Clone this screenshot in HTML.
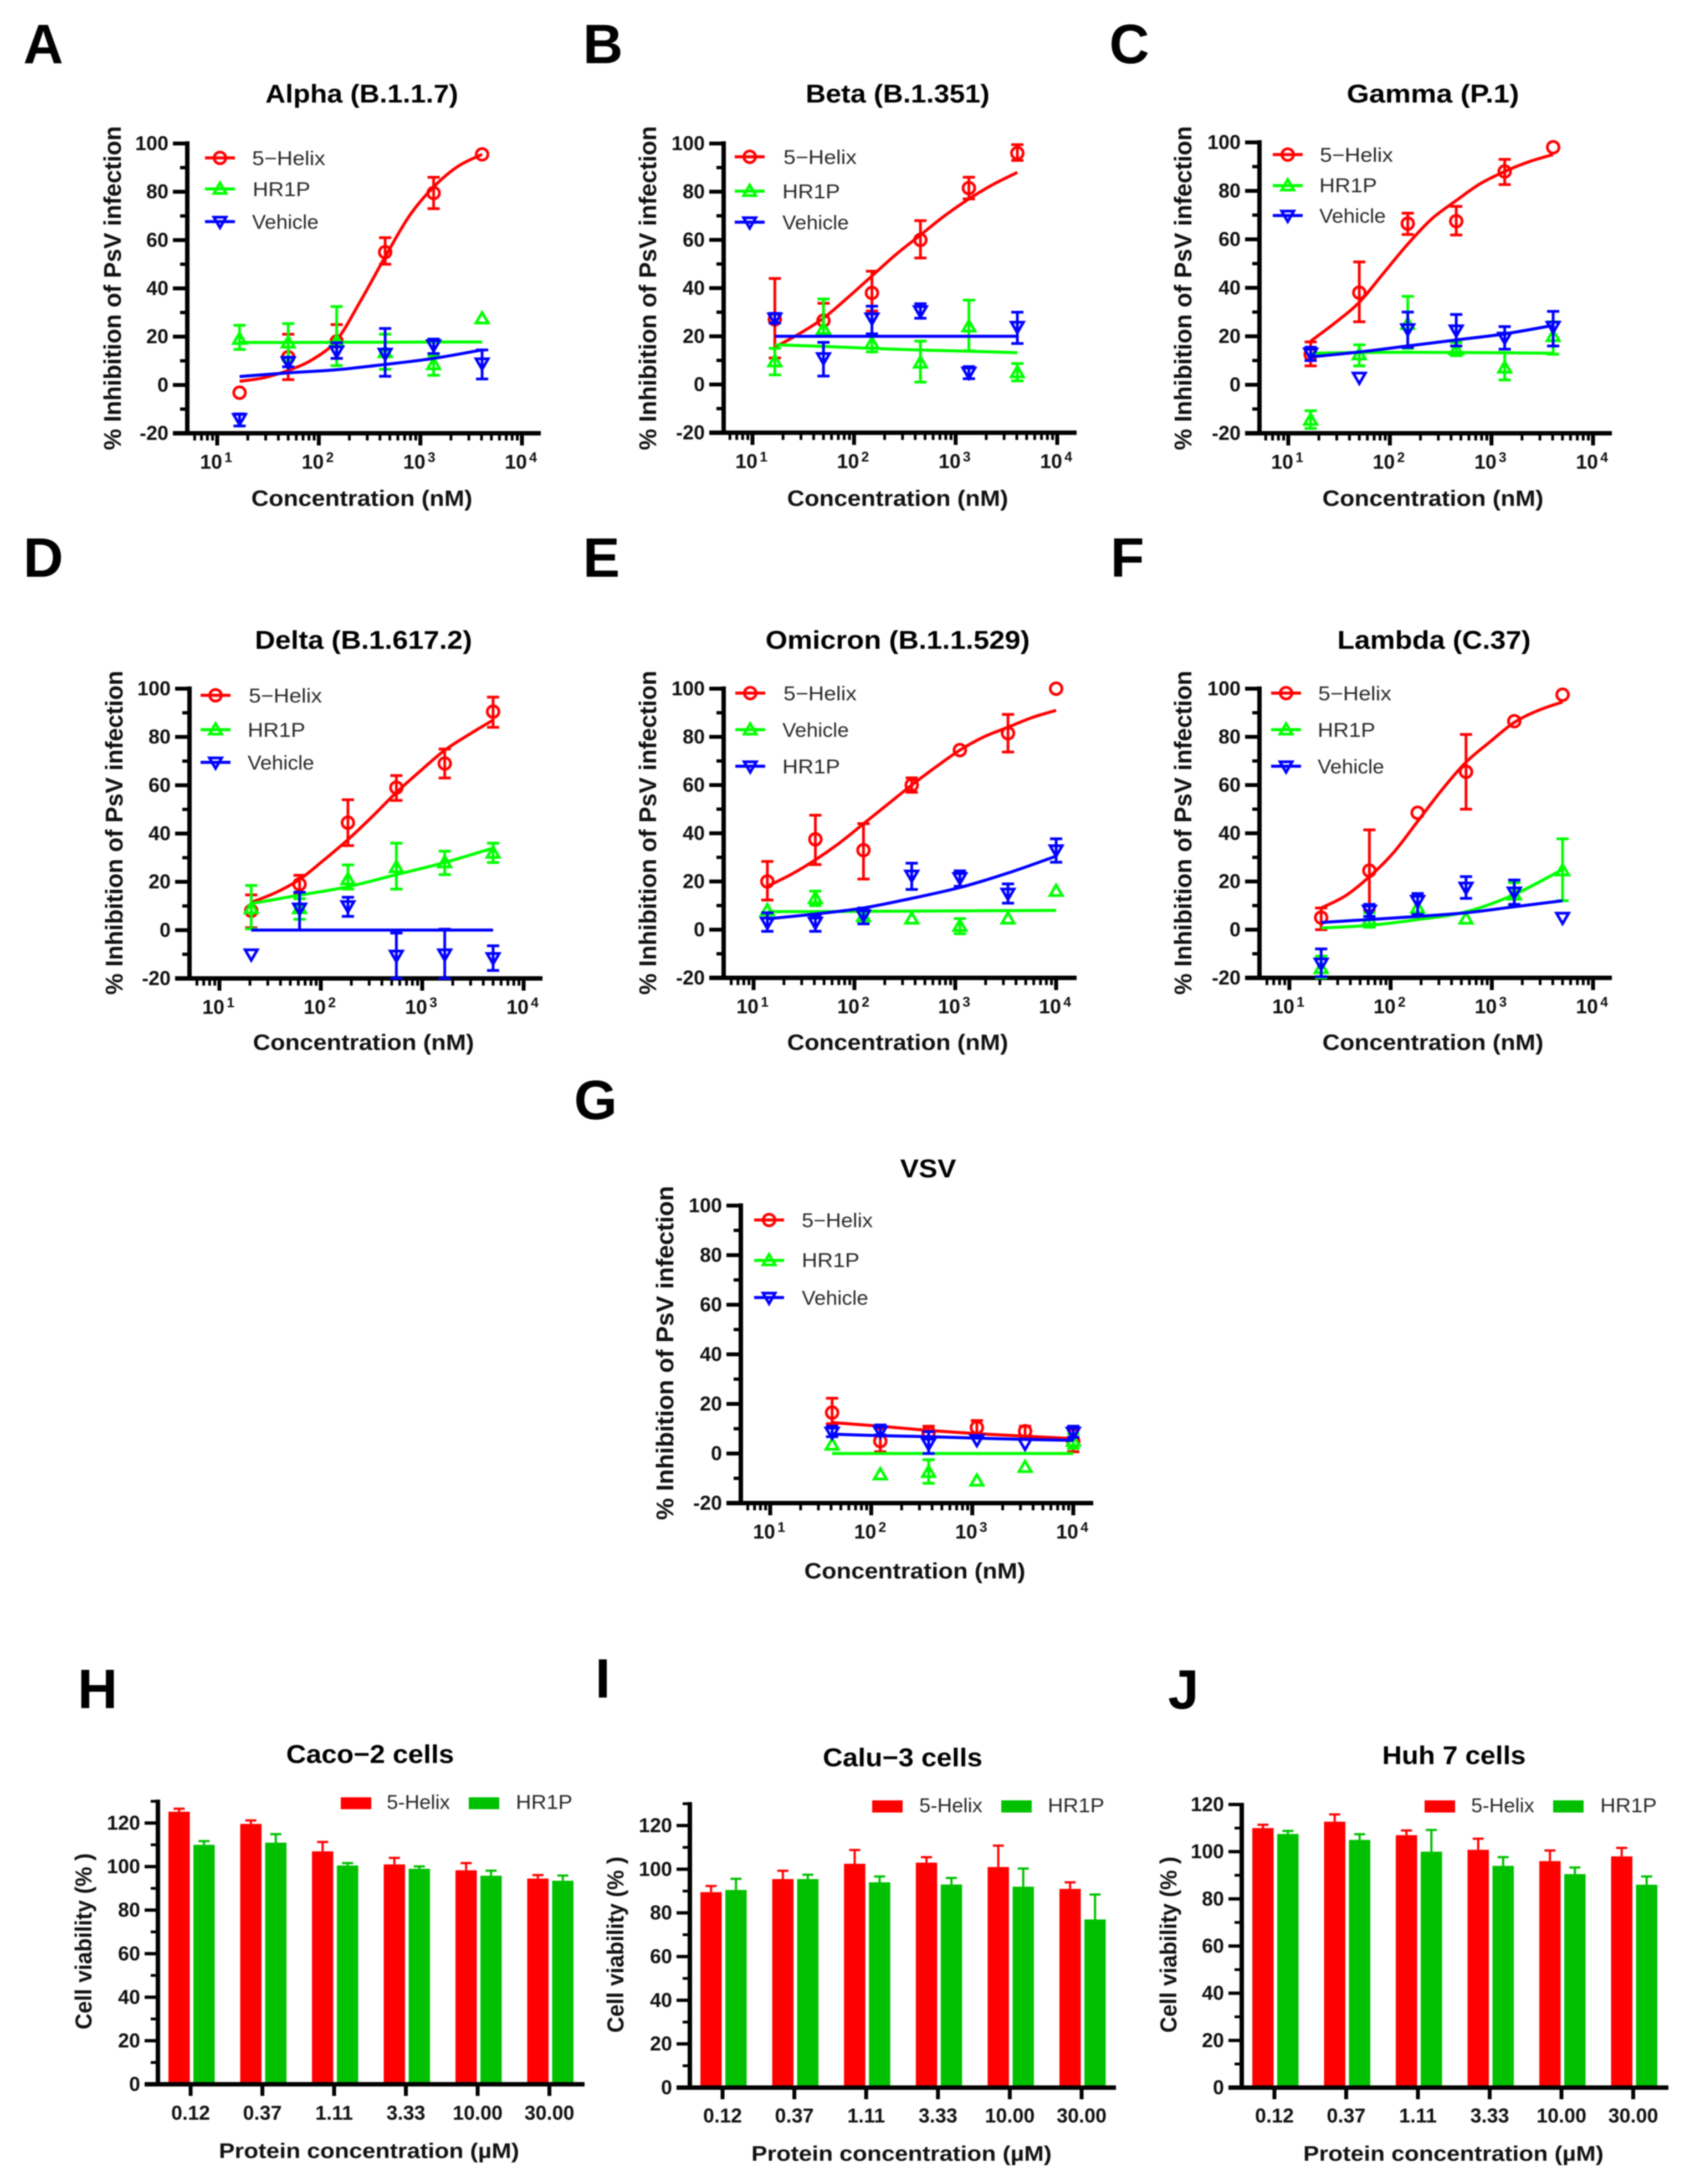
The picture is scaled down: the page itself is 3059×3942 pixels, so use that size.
<!DOCTYPE html>
<html lang="en">
<head>
<meta charset="utf-8">
<title>SARS-CoV-2 variant pseudovirus inhibition and cell viability</title>
<style>
html,body{margin:0;padding:0;background:#fff;}
svg{display:block;font-family:"Liberation Sans",sans-serif;filter:blur(1px);}
.letter{font-size:100px;font-weight:700;fill:#000;}
.title{font-size:46px;font-weight:700;fill:#000;text-anchor:middle;}
.axt{font-size:40px;font-weight:700;fill:#111;text-anchor:middle;}
.ayt{font-size:44px;font-weight:700;fill:#111;text-anchor:middle;}
.leg{font-size:36px;fill:#2a2a2a;}
.tick{font-size:36px;font-weight:700;fill:#111;}
</style>
</head>
<body>
<svg id="figure" width="3059" height="3942" viewBox="0 0 3059 3942">
<rect x="0" y="0" width="3059" height="3942" fill="#fff"/>

<g id="panel-a">
<text class="letter" x="42" y="114">A</text>
<text class="title" x="653" y="185" textLength="348" lengthAdjust="spacingAndGlyphs">Alpha (B.1.1.7)</text>
<text class="ayt" transform="translate(218,520) rotate(-90)" textLength="585" lengthAdjust="spacingAndGlyphs">% Inhibition of PsV infection</text>
<text class="axt" x="653" y="913" textLength="399" lengthAdjust="spacingAndGlyphs">Concentration (nM)</text>
<text class="leg" x="455" y="298" textLength="132" lengthAdjust="spacingAndGlyphs">5−Helix</text>
<text class="leg" x="456" y="354" textLength="104" lengthAdjust="spacingAndGlyphs">HR1P</text>
<text class="leg" x="455" y="413" textLength="120" lengthAdjust="spacingAndGlyphs">Vehicle</text>
</g>

<g id="panel-b">
<text class="letter" x="1052" y="114">B</text>
<text class="title" x="1620" y="185" textLength="332" lengthAdjust="spacingAndGlyphs">Beta (B.1.351)</text>
<text class="ayt" transform="translate(1184,520) rotate(-90)" textLength="585" lengthAdjust="spacingAndGlyphs">% Inhibition of PsV infection</text>
<text class="axt" x="1620" y="913" textLength="399" lengthAdjust="spacingAndGlyphs">Concentration (nM)</text>
<text class="leg" x="1414" y="296" textLength="132" lengthAdjust="spacingAndGlyphs">5−Helix</text>
<text class="leg" x="1412" y="358" textLength="104" lengthAdjust="spacingAndGlyphs">HR1P</text>
<text class="leg" x="1412" y="414" textLength="120" lengthAdjust="spacingAndGlyphs">Vehicle</text>
</g>

<g id="panel-c">
<text class="letter" x="2002" y="114">C</text>
<text class="title" x="2586" y="185" textLength="311" lengthAdjust="spacingAndGlyphs">Gamma (P.1)</text>
<text class="ayt" transform="translate(2150,520) rotate(-90)" textLength="585" lengthAdjust="spacingAndGlyphs">% Inhibition of PsV infection</text>
<text class="axt" x="2586" y="913" textLength="399" lengthAdjust="spacingAndGlyphs">Concentration (nM)</text>
<text class="leg" x="2382" y="292" textLength="132" lengthAdjust="spacingAndGlyphs">5−Helix</text>
<text class="leg" x="2381" y="347" textLength="104" lengthAdjust="spacingAndGlyphs">HR1P</text>
<text class="leg" x="2381" y="402" textLength="120" lengthAdjust="spacingAndGlyphs">Vehicle</text>
</g>

<g id="panel-d">
<text class="letter" x="42" y="1041">D</text>
<text class="title" x="656" y="1171" textLength="392" lengthAdjust="spacingAndGlyphs">Delta (B.1.617.2)</text>
<text class="ayt" transform="translate(221,1503) rotate(-90)" textLength="585" lengthAdjust="spacingAndGlyphs">% Inhibition of PsV infection</text>
<text class="axt" x="656" y="1895" textLength="399" lengthAdjust="spacingAndGlyphs">Concentration (nM)</text>
<text class="leg" x="449" y="1268" textLength="132" lengthAdjust="spacingAndGlyphs">5−Helix</text>
<text class="leg" x="447" y="1330" textLength="104" lengthAdjust="spacingAndGlyphs">HR1P</text>
<text class="leg" x="447" y="1389" textLength="120" lengthAdjust="spacingAndGlyphs">Vehicle</text>
</g>

<g id="panel-e">
<text class="letter" x="1052" y="1041">E</text>
<text class="title" x="1620" y="1171" textLength="477" lengthAdjust="spacingAndGlyphs">Omicron (B.1.1.529)</text>
<text class="ayt" transform="translate(1184,1503) rotate(-90)" textLength="585" lengthAdjust="spacingAndGlyphs">% Inhibition of PsV infection</text>
<text class="axt" x="1620" y="1895" textLength="399" lengthAdjust="spacingAndGlyphs">Concentration (nM)</text>
<text class="leg" x="1414" y="1264" textLength="132" lengthAdjust="spacingAndGlyphs">5−Helix</text>
<text class="leg" x="1412" y="1330" textLength="120" lengthAdjust="spacingAndGlyphs">Vehicle</text>
<text class="leg" x="1412" y="1396" textLength="104" lengthAdjust="spacingAndGlyphs">HR1P</text>
</g>

<g id="panel-f">
<text class="letter" x="2004" y="1041">F</text>
<text class="title" x="2588" y="1171" textLength="349" lengthAdjust="spacingAndGlyphs">Lambda (C.37)</text>
<text class="ayt" transform="translate(2150,1503) rotate(-90)" textLength="585" lengthAdjust="spacingAndGlyphs">% Inhibition of PsV infection</text>
<text class="axt" x="2586" y="1895" textLength="399" lengthAdjust="spacingAndGlyphs">Concentration (nM)</text>
<text class="leg" x="2379" y="1264" textLength="132" lengthAdjust="spacingAndGlyphs">5−Helix</text>
<text class="leg" x="2378" y="1330" textLength="104" lengthAdjust="spacingAndGlyphs">HR1P</text>
<text class="leg" x="2378" y="1396" textLength="120" lengthAdjust="spacingAndGlyphs">Vehicle</text>
</g>

<g id="panel-g">
<text class="letter" x="1036" y="2020">G</text>
<text class="title" x="1675" y="2125" textLength="101" lengthAdjust="spacingAndGlyphs">VSV</text>
<text class="ayt" transform="translate(1215,2442) rotate(-90)" textLength="603" lengthAdjust="spacingAndGlyphs">% Inhibition of PsV infection</text>
<text class="axt" x="1651" y="2849" textLength="399" lengthAdjust="spacingAndGlyphs">Concentration (nM)</text>
<text class="leg" x="1447" y="2215" textLength="128" lengthAdjust="spacingAndGlyphs">5−Helix</text>
<text class="leg" x="1447" y="2287" textLength="104" lengthAdjust="spacingAndGlyphs">HR1P</text>
<text class="leg" x="1447" y="2355" textLength="120" lengthAdjust="spacingAndGlyphs">Vehicle</text>
</g>

<g id="panel-h">
<text class="letter" x="140" y="3083">H</text>
<text class="title" x="668" y="3182" textLength="303" lengthAdjust="spacingAndGlyphs">Caco−2 cells</text>
<text class="ayt" transform="translate(165,3504) rotate(-90)" textLength="318" lengthAdjust="spacingAndGlyphs" style="font-size:42px">Cell viability (% )</text>
<text class="axt" x="666" y="3895" textLength="542" lengthAdjust="spacingAndGlyphs" style="font-size:38px">Protein concentration (µM)</text>
<text class="leg" x="698" y="3265" textLength="114" lengthAdjust="spacingAndGlyphs">5-Helix</text>
<text class="leg" x="931" y="3265" textLength="102" lengthAdjust="spacingAndGlyphs">HR1P</text>
</g>

<g id="panel-i">
<text class="letter" x="1074" y="3064">I</text>
<text class="title" x="1629" y="3188" textLength="288" lengthAdjust="spacingAndGlyphs">Calu−3 cells</text>
<text class="ayt" transform="translate(1125,3510) rotate(-90)" textLength="318" lengthAdjust="spacingAndGlyphs" style="font-size:42px">Cell viability (% )</text>
<text class="axt" x="1627" y="3900" textLength="542" lengthAdjust="spacingAndGlyphs" style="font-size:38px">Protein concentration (µM)</text>
<text class="leg" x="1659" y="3271" textLength="114" lengthAdjust="spacingAndGlyphs">5-Helix</text>
<text class="leg" x="1891" y="3271" textLength="102" lengthAdjust="spacingAndGlyphs">HR1P</text>
</g>

<g id="panel-j">
<text class="letter" x="2108" y="3084">J</text>
<text class="title" x="2624" y="3184" textLength="259" lengthAdjust="spacingAndGlyphs">Huh 7 cells</text>
<text class="ayt" transform="translate(2123,3510) rotate(-90)" textLength="318" lengthAdjust="spacingAndGlyphs" style="font-size:42px">Cell viability (% )</text>
<text class="axt" x="2623" y="3900" textLength="542" lengthAdjust="spacingAndGlyphs" style="font-size:38px">Protein concentration (µM)</text>
<text class="leg" x="2655" y="3271" textLength="114" lengthAdjust="spacingAndGlyphs">5-Helix</text>
<text class="leg" x="2888" y="3271" textLength="102" lengthAdjust="spacingAndGlyphs">HR1P</text>
</g>
</svg>

<script>
/* ---------- shared tick labels ---------- */
const curveYTickLabels = [100, 80, 60, 40, 20, 0, -20];
const curveXTickExponents = [1, 2, 3, 4];
const barYTickLabels = [120, 100, 80, 60, 40, 20, 0];
const barCategories = ['0.12', '0.37', '1.11', '3.33', '10.00', '30.00'];

/* ---------- A: Alpha ---------- */
const alphaDoses = [16.6, 50, 150, 450, 1350, 4050];
const alphaRed = [-3.2, 11.5, 18, 55, 79.5, 95.5];
const alphaRedUp = [0, 9.5, 7, 6, 6.5, 0];
const alphaRedDown = [0, 9.3, 7, 5, 6.5, 0];
const alphaRedFit = [1.5, 3, 6, 10.5, 18.5, 35, 53, 70, 82, 90.5, 95.5];
const alphaGreen = [19, 17.5, 18, 13.5, 8.5, 27.5];
const alphaGreenUp = [5.7, 7.9, 14.5, 7.5, 3.5, 0];
const alphaGreenDown = [4.3, 7.5, 10, 7, 4.5, 0];
const alphaGreenFit = [17.6, 17.6, 17.7, 17.7, 17.8, 17.8];
const alphaBlue = [-14, 9.5, 14, 13, 16.5, 9];
const alphaBlueUp = [2, 2, 3.5, 10.4, 2.5, 5.5];
const alphaBlueDown = [3, 2, 3, 9.4, 3.5, 6.5];
const alphaBlueFit = [3.5, 5, 6.3, 8.5, 11, 14.5];

/* ---------- B: Beta ---------- */
const betaDoses = [16.6, 50, 150, 450, 1350, 4050];
const betaRed = [27, 26.5, 38, 60, 81.5, 96];
const betaRedUp = [17, 7.2, 9, 8, 4.5, 3.5];
const betaRedDown = [16, 6.5, 7.5, 7.5, 4.5, 3];
const betaRedFit = [15.5, 21, 27.5, 36, 45, 54, 62, 70, 77, 83, 88];
const betaGreen = [9.5, 23, 17, 9, 24, 5];
const betaGreenUp = [5.5, 12.5, 3, 9, 11, 3.7];
const betaGreenDown = [5.5, 3, 3.5, 8, 10, 3.5];
const betaGreenFit = [16.5, 15.8, 15, 14.3, 13.8, 13.2];
const betaBlue = [27.5, 11, 27.5, 30.5, 5, 24];
const betaBlueUp = [2, 6.5, 5, 3, 2.4, 6];
const betaBlueDown = [2, 7.5, 6.5, 3, 2.6, 7];
const betaBlueFit = [20, 20, 20, 20, 20, 20];

/* ---------- C: Gamma ---------- */
const gammaDoses = [16.6, 50, 150, 450, 1350, 4050];
const gammaRed = [12.5, 38, 66.5, 67.5, 88, 98];
const gammaRedUp = [5.2, 12.7, 4.3, 6.1, 5, 0];
const gammaRedDown = [4.7, 12, 4.5, 5.7, 5.4, 0];
const gammaRedFit = [18, 25.5, 34, 46, 58, 68.5, 76, 83, 88, 92, 95];
const gammaGreen = [-14.5, 12.5, 25, 14.5, 7, 20];
const gammaGreenUp = [3.8, 4, 11.5, 3, 6.3, 6];
const gammaGreenDown = [3.5, 4.7, 10, 2.5, 5, 7.4];
const gammaGreenFit = [13, 13.3, 13.4, 13.3, 13.2, 13];
const gammaBlue = [13, 3, 23, 22.5, 19.5, 24];
const gammaBlueUp = [2.5, 0, 7, 6.5, 4.5, 6.3];
const gammaBlueDown = [3, 0, 7.6, 6.5, 4.8, 8];
const gammaBlueFit = [11.5, 13.5, 16, 18.5, 21, 24.5];

/* ---------- D: Delta ---------- */
const deltaDoses = [20.6, 61.7, 185, 556, 1667, 5000];
const deltaRed = [8, 19, 44.5, 59, 69, 90.5];
const deltaRedUp = [6.6, 3.7, 9.5, 5, 6, 6];
const deltaRedDown = [7, 4, 9.5, 5.3, 6, 6.5];
const deltaRedFit = [11.5, 15.5, 21, 29, 37.5, 47, 57, 66, 74.5, 81, 87];
const deltaGreen = [9, 9, 21, 26, 28, 32];
const deltaGreenUp = [9.5, 4, 6, 10, 4.7, 4];
const deltaGreenDown = [8.5, 4.5, 4, 9, 5, 4];
const deltaGreenFit = [11, 14.5, 18, 23, 28, 34];
const deltaBlue = [-10, 9, 10, -10.5, -10, -11.5];
const deltaBlueUp = [0, 6.7, 3.6, 9.3, 10.4, 5];
const deltaBlueDown = [0, 9, 4.3, 9.5, 10, 5.2];
const deltaBlueFit = [0, 0, 0, 0, 0, 0];

/* ---------- E: Omicron ---------- */
const omicronDoses = [13.7, 41, 123, 370, 1111, 3333, 10000];
const omicronRed = [20, 37.5, 33, 60, 74.5, 81.5, 100];
const omicronRedUp = [8.3, 10, 11, 3, 0, 7.8, 0];
const omicronRedDown = [7.7, 10.5, 12, 3, 0, 7.8, 0];
const omicronRedFit = [18, 23, 29, 36, 44, 52, 60, 67.5, 74.5, 80, 84, 88, 91];
const omicronGreen = [8, 13, 5.5, 4.5, 1.5, 4.5, 16];
const omicronGreenUp = [0, 3, 0, 0, 3.1, 0, 0];
const omicronGreenDown = [0, 3, 0, 0, 3.2, 0, 0];
const omicronGreenFit = [7.5, 7.5, 7.6, 7.7, 7.8, 7.9, 8];
const omicronBlue = [3, 3, 6, 22.5, 21.5, 15, 33];
const omicronBlueUp = [4, 3, 3, 5.1, 2.9, 4, 4.7];
const omicronBlueDown = [3.7, 3.7, 3.6, 5.8, 3.5, 4, 5];
const omicronBlueFit = [4.5, 6.5, 9, 13, 17.5, 23.5, 30.5];

/* ---------- F: Lambda ---------- */
const lambdaDoses = [20.6, 61.7, 185, 556, 1667, 5000];
const lambdaRed = [5, 24.5, 48.5, 65.5, 86.5, 97.5];
const lambdaRedUp = [4, 16.9, 0, 15.5, 0, 0];
const lambdaRedDown = [5, 16.5, 0, 15.5, 0, 0];
const lambdaRedFit = [9, 14, 22, 32, 45, 58, 69.5, 78, 86, 91, 94.5];
const lambdaGreen = [-16, 4, 9, 4.5, 14.5, 24.5];
const lambdaGreenUp = [5, 3, 5, 0, 5, 13.2];
const lambdaGreenDown = [4, 3, 3.5, 0, 4.5, 12.5];
const lambdaGreenFit = [0.7, 1.8, 4.2, 7.4, 14.6, 25];
const lambdaBlue = [-14, 8, 12, 17.5, 15.5, 5];
const lambdaBlueUp = [6, 2.5, 3, 4.5, 5.1, 0];
const lambdaBlueDown = [5.5, 2.5, 5.7, 4.5, 5, 0];
const lambdaBlueFit = [3, 4.2, 5.5, 7, 9.5, 12];

/* ---------- G: VSV ---------- */
const vsvDoses = [41, 123, 370, 1111, 3333, 10000];
const vsvRed = [16.5, 5, 8.5, 10.5, 9, 5];
const vsvRedUp = [5.8, 5, 2.5, 2.8, 2, 4.5];
const vsvRedDown = [4.5, 4.3, 2, 2.5, 2.2, 4.3];
const vsvRedFit = [12.5, 11, 9.3, 8, 7, 6];
const vsvGreen = [3.5, -8.5, -7.5, -11, -5.5, 5];
const vsvGreenUp = [0, 0, 5, 0, 0, 3];
const vsvGreenDown = [0, 0, 4.5, 0, 0, 3];
const vsvGreenFit = [0, 0, 0, 0, 0, 0];
const vsvBlue = [8.5, 9, 4, 5.5, 4, 8.5];
const vsvBlueUp = [2.5, 2.5, 4.8, 0, 0, 2.5];
const vsvBlueDown = [1.7, 1.5, 4, 0, 0, 2];
const vsvBlueFit = [7.8, 7.2, 6.8, 6.2, 5.7, 5.3];

/* ---------- H, I, J: cell viability bars ---------- */
const cacoRed = [125.2, 119.6, 107, 101, 98.3, 94.5];
const cacoRedErr = [1.4, 1.6, 4.3, 3, 3.3, 1.6];
const cacoGreen = [110, 111, 100.5, 99, 95.8, 93.5];
const cacoGreenErr = [1.7, 3.9, 1.1, 1.1, 2.3, 2.4];
const caluRed = [89.5, 95.5, 102.5, 103, 101, 91];
const caluRedErr = [2.8, 3.8, 6.3, 2.5, 9.8, 3];
const caluGreen = [90.5, 95.5, 94, 93, 92, 77];
const caluGreenErr = [5.1, 2, 2.7, 3, 8.3, 11.4];
const huhRed = [110, 112.7, 107, 100.8, 96, 98];
const huhRedErr = [1.4, 3.1, 2, 4.7, 4.5, 3.6];
const huhGreen = [107.5, 105, 100, 94, 90.5, 86];
const huhGreenErr = [1.3, 2.4, 9.2, 3.7, 2.8, 3.5];

/* ---------- layout (separate from data) ---------- */
const RED = '#ff0000', LIME = '#00ff00', BLUE = '#0000ff', BAR_GREEN = '#00c000';

const curvePanels = [
  { id: 'panel-a', axisX: 338, top: 259, bottom: 782, x10: 392, x1e4: 942, xEnd: 976, legX: 370, legY: [285, 341, 400],
    doses: alphaDoses,
    series: [
      { v: alphaRed, up: alphaRedUp, dn: alphaRedDown, fit: alphaRedFit },
      { v: alphaGreen, up: alphaGreenUp, dn: alphaGreenDown, fit: alphaGreenFit },
      { v: alphaBlue, up: alphaBlueUp, dn: alphaBlueDown, fit: alphaBlueFit } ] },
  { id: 'panel-b', axisX: 1306, top: 259, bottom: 781, x10: 1358, x1e4: 1908, xEnd: 1943, legX: 1326, legY: [283, 345, 401],
    doses: betaDoses,
    series: [
      { v: betaRed, up: betaRedUp, dn: betaRedDown, fit: betaRedFit },
      { v: betaGreen, up: betaGreenUp, dn: betaGreenDown, fit: betaGreenFit },
      { v: betaBlue, up: betaBlueUp, dn: betaBlueDown, fit: betaBlueFit } ] },
  { id: 'panel-c', axisX: 2273, top: 257, bottom: 782, x10: 2325, x1e4: 2875, xEnd: 2909, legX: 2297, legY: [279, 335, 389],
    doses: gammaDoses,
    series: [
      { v: gammaRed, up: gammaRedUp, dn: gammaRedDown, fit: gammaRedFit },
      { v: gammaGreen, up: gammaGreenUp, dn: gammaGreenDown, fit: gammaGreenFit },
      { v: gammaBlue, up: gammaBlueUp, dn: gammaBlueDown, fit: gammaBlueFit } ] },
  { id: 'panel-d', axisX: 342, top: 1243, bottom: 1766, x10: 396, x1e4: 945, xEnd: 979, legX: 362, legY: [1255, 1317, 1376],
    doses: deltaDoses,
    series: [
      { v: deltaRed, up: deltaRedUp, dn: deltaRedDown, fit: deltaRedFit },
      { v: deltaGreen, up: deltaGreenUp, dn: deltaGreenDown, fit: deltaGreenFit },
      { v: deltaBlue, up: deltaBlueUp, dn: deltaBlueDown, fit: deltaBlueFit } ] },
  { id: 'panel-e', axisX: 1306, top: 1243, bottom: 1765, x10: 1360, x1e4: 1906, xEnd: 1943, legX: 1327, legY: [1251, 1317, 1383],
    doses: omicronDoses,
    series: [
      { v: omicronRed, up: omicronRedUp, dn: omicronRedDown, fit: omicronRedFit },
      { v: omicronGreen, up: omicronGreenUp, dn: omicronGreenDown, fit: omicronGreenFit },
      { v: omicronBlue, up: omicronBlueUp, dn: omicronBlueDown, fit: omicronBlueFit } ] },
  { id: 'panel-f', axisX: 2273, top: 1243, bottom: 1765, x10: 2327, x1e4: 2875, xEnd: 2909, legX: 2294, legY: [1251, 1317, 1383],
    doses: lambdaDoses,
    series: [
      { v: lambdaRed, up: lambdaRedUp, dn: lambdaRedDown, fit: lambdaRedFit },
      { v: lambdaGreen, up: lambdaGreenUp, dn: lambdaGreenDown, fit: lambdaGreenFit },
      { v: lambdaBlue, up: lambdaBlueUp, dn: lambdaBlueDown, fit: lambdaBlueFit } ] },
  { id: 'panel-g', axisX: 1337, top: 2176, bottom: 2713, x10: 1390, x1e4: 1937, xEnd: 1973, legX: 1361, legY: [2202, 2275, 2342],
    doses: vsvDoses,
    series: [
      { v: vsvRed, up: vsvRedUp, dn: vsvRedDown, fit: vsvRedFit },
      { v: vsvGreen, up: vsvGreenUp, dn: vsvGreenDown, fit: vsvGreenFit },
      { v: vsvBlue, up: vsvBlueUp, dn: vsvBlueDown, fit: vsvBlueFit } ] }
];
const seriesColors = [RED, LIME, BLUE];
const seriesMarkers = ['circle', 'up', 'down'];

const barPanels = [
  { id: 'panel-h', axisX: 285, y0: 3762, y120: 3290.5, axisTopValue: 130, xEnd: 1055, firstTick: 344, step: 129.5,
    labelBaseline: 3826, legY: 3244, legH: 21.5, legRects: [615, 846],
    red: cacoRed, redErr: cacoRedErr, green: cacoGreen, greenErr: cacoGreenErr },
  { id: 'panel-i', axisX: 1245, y0: 3768, y120: 3295, axisTopValue: 130, xEnd: 2014, firstTick: 1304, step: 129.6,
    labelBaseline: 3831, legY: 3249.5, legH: 22, legRects: [1574, 1807],
    red: caluRed, redErr: caluRedErr, green: caluGreen, greenErr: caluGreenErr },
  { id: 'panel-j', axisX: 2241, y0: 3768, y120: 3257, axisTopValue: 120, xEnd: 3011, firstTick: 2300, step: 129.5,
    labelBaseline: 3831, legY: 3249.5, legH: 22, legRects: [2571, 2803],
    red: huhRed, redErr: huhRedErr, green: huhGreen, greenErr: huhGreenErr }
];

/* ---------- helpers ---------- */
const svgRoot = document.getElementById('figure');
function mk(tag, parent, attrs) {
  const el = document.createElementNS(svgRoot.namespaceURI, tag);
  for (const k in attrs) el.setAttribute(k, attrs[k]);
  parent.appendChild(el);
  return el;
}
function ln(parent, x1, y1, x2, y2, color, w) {
  return mk('line', parent, { x1: x1, y1: y1, x2: x2, y2: y2, stroke: color, 'stroke-width': w });
}
function drawMarker(parent, type, cx, cy, color) {
  let el;
  if (type === 'circle') {
    el = mk('circle', parent, { cx: cx, cy: cy, r: 10.5, fill: 'none', stroke: color, 'stroke-width': 5 });
  } else if (type === 'up') {
    el = mk('polygon', parent, { points: (cx) + ',' + (cy - 11) + ' ' + (cx + 11) + ',' + (cy + 8) + ' ' + (cx - 11) + ',' + (cy + 8), fill: 'none', stroke: color, 'stroke-width': 5 });
  } else {
    el = mk('polygon', parent, { points: (cx) + ',' + (cy + 11) + ' ' + (cx + 11) + ',' + (cy - 8) + ' ' + (cx - 11) + ',' + (cy - 8), fill: 'none', stroke: color, 'stroke-width': 5 });
  }
  return el;
}
function smoothPath(pts) {
  let d = 'M' + pts[0][0].toFixed(1) + ' ' + pts[0][1].toFixed(1);
  for (let i = 0; i < pts.length - 1; i++) {
    const p0 = pts[Math.max(0, i - 1)], p1 = pts[i], p2 = pts[i + 1], p3 = pts[Math.min(pts.length - 1, i + 2)];
    const c1x = p1[0] + (p2[0] - p0[0]) / 6, c1y = p1[1] + (p2[1] - p0[1]) / 6;
    const c2x = p2[0] - (p3[0] - p1[0]) / 6, c2y = p2[1] - (p3[1] - p1[1]) / 6;
    d += 'C' + c1x.toFixed(1) + ' ' + c1y.toFixed(1) + ' ' + c2x.toFixed(1) + ' ' + c2y.toFixed(1) + ' ' + p2[0].toFixed(1) + ' ' + p2[1].toFixed(1);
  }
  return d;
}

/* ---------- dose-response panels ---------- */
function drawCurvePanel(p) {
  const g = document.getElementById(p.id);
  const xOf = d => p.x10 + (Math.log10(d) - 1) * (p.x1e4 - p.x10) / 3;
  const yOf = v => p.bottom + (v + 20) * (p.top - p.bottom) / 120;

  const axisY = ln(g, p.axisX, p.top - 4, p.axisX, p.bottom + 4, '#000', 8);
  
  
  const axisXLine = ln(g, p.axisX - 26, p.bottom, p.xEnd, p.bottom, '#000', 8);
  
  

  curveYTickLabels.forEach(v => {
    const y = yOf(v);
    const t = ln(g, p.axisX - 26, y, p.axisX, y, '#000', 7);
    
    
    const lab = mk('text', g, { class: 'tick', x: p.axisX - 34, y: y + 12, 'text-anchor': 'end' });
    lab.textContent = String(v);
    
    
    if (v < 100) {
      const m = ln(g, p.axisX - 13, yOf(v + 10), p.axisX, yOf(v + 10), '#000', 6);
      
      
    }
  });

  for (let e = 0; e < 4; e++) {
    for (let m = 2; m <= 9; m++) {
      const d = m * Math.pow(10, e);
      if (d <= 5) continue;
      const x = xOf(d);
      const tk = ln(g, x, p.bottom, x, p.bottom + 13, '#000', 5);
      
      
    }
  }
  curveXTickExponents.forEach(e => {
    const x = xOf(Math.pow(10, e));
    const tk = ln(g, x, p.bottom, x, p.bottom + 22, '#000', 7);
    
    
    const lab = mk('text', g, { class: 'tick', x: x - 2, y: p.bottom + 64, 'text-anchor': 'middle' });
    
    
    lab.appendChild(document.createTextNode('10'));
    const sup = mk('tspan', lab, { dx: 4, dy: -12, 'font-size': 25 });
    sup.textContent = String(e);
  });

  p.series.forEach((s, si) => {
    const color = seriesColors[si], mtype = seriesMarkers[si];
    const lx0 = Math.log10(p.doses[0]), lx1 = Math.log10(p.doses[p.doses.length - 1]);
    const pts = s.fit.map((v, i) => [xOf(Math.pow(10, lx0 + (lx1 - lx0) * i / (s.fit.length - 1))), yOf(v)]);
    const path = mk('path', g, { d: smoothPath(pts), fill: 'none', stroke: color, 'stroke-width': 5.5 });
    
    
    s.v.forEach((v, i) => {
      const x = xOf(p.doses[i]), y = yOf(v);
      if (s.up[i] > 0 || s.dn[i] > 0) {
        const yTop = yOf(v + s.up[i]), yBot = yOf(v - s.dn[i]);
        const eg = mk('g', g, {});
        
        
        ln(eg, x, yTop, x, yBot, color, 5);
        ln(eg, x - 11, yTop, x + 11, yTop, color, 5);
        ln(eg, x - 11, yBot, x + 11, yBot, color, 5);
      }
      const mk1 = drawMarker(g, mtype, x, y, color);
      
      
    });
    const ly = p.legY[si];
    const ll = ln(g, p.legX, ly, p.legX + 54, ly, color, 5.5);
    
    
    const lm = drawMarker(g, mtype, p.legX + 27, ly, color);
    
    
  });
}
curvePanels.forEach(drawCurvePanel);

/* ---------- bar panels ---------- */
function drawBarPanel(p) {
  const g = document.getElementById(p.id);
  const yOf = v => p.y0 + v * (p.y120 - p.y0) / 120;
  const xOf = i => p.firstTick + i * p.step;

  const drawBars = (vals, errs, color, off, label) => {
    vals.forEach((v, i) => {
      const x = xOf(i) + off, w = 38.5, y = yOf(v);
      const bar = mk('rect', g, { x: x, y: y, width: w, height: p.y0 - y, fill: color });
      
      
      const yTop = yOf(v + errs[i]);
      const eg = mk('g', g, {});
      
      
      ln(eg, x + w / 2, y, x + w / 2, yTop, color, 4);
      ln(eg, x + w / 2 - 10, yTop, x + w / 2 + 10, yTop, color, 4);
    });
  };
  drawBars(p.red, p.redErr, RED, -40, 'five-helix');
  drawBars(p.green, p.greenErr, BAR_GREEN, 5, 'hr1p');

  const axisY = ln(g, p.axisX, yOf(p.axisTopValue) - 3, p.axisX, p.y0 + 4, '#000', 8);
  
  
  const axisXLine = ln(g, p.axisX - 24, p.y0, p.xEnd, p.y0, '#000', 8);
  
  

  barYTickLabels.forEach(v => {
    const y = yOf(v);
    const t = ln(g, p.axisX - 24, y, p.axisX, y, '#000', 6);
    
    
    const lab = mk('text', g, { class: 'tick', x: p.axisX - 32, y: y + 12, 'text-anchor': 'end' });
    lab.textContent = String(v);
    
    
    if (v + 10 <= p.axisTopValue) {
      const m = ln(g, p.axisX - 13, yOf(v + 10), p.axisX, yOf(v + 10), '#000', 5);
      
      
    }
  });

  barCategories.forEach((c, i) => {
    const x = xOf(i);
    const t = ln(g, x, p.y0, x, p.y0 + 21, '#000', 7);
    
    
    const lab = mk('text', g, { class: 'tick', x: x, y: p.labelBaseline, 'text-anchor': 'middle' });
    lab.textContent = c;
    
    
  });

  const r1 = mk('rect', g, { x: p.legRects[0], y: p.legY, width: 55, height: p.legH, fill: RED });
  
  
  const r2 = mk('rect', g, { x: p.legRects[1], y: p.legY, width: 55, height: p.legH, fill: BAR_GREEN });
  
  
}
barPanels.forEach(drawBarPanel);
</script>
</body>
</html>
